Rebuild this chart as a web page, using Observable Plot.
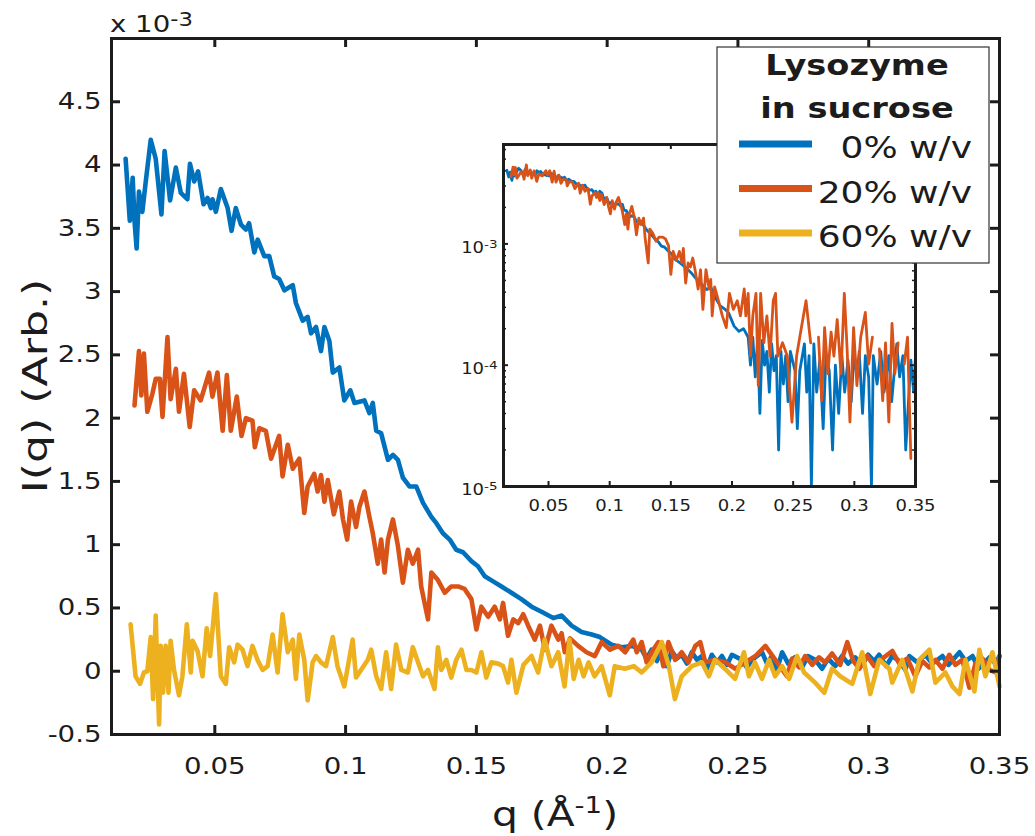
<!DOCTYPE html>
<html>
<head>
<meta charset="utf-8">
<script src="https://cdn.jsdelivr.net/npm/d3@7"></script>
<script src="https://cdn.jsdelivr.net/npm/@observablehq/plot@0.6"></script>
<style>
  html, body { margin: 0; padding: 0; background: #fff; }
  #wrap { position: relative; width: 1035px; height: 836px; overflow: hidden; font-family: "DejaVu Sans", sans-serif; }
  #wrap svg { position: absolute; max-width: none; }
</style>
</head>
<body>
<div id="wrap"></div>
<script>
// ---------------- DATA (I in units of 10^-3, q in 1/Angstrom) ----------------
const blueQ = [0.0159,0.0175,0.0186,0.0193,0.0201,0.0210,0.0223,0.0236,0.0255,0.0274,
  0.0296,0.0308,0.0329,0.0351,0.0370,0.0395,0.0405,0.0421,0.0436,0.0457,
  0.0472,0.0485,0.0491,0.0504,0.0523,0.0549,0.0564,0.0580,0.0600,0.0619,
  0.0631,0.0651,0.0664,0.0689,0.0708,0.0727,0.0746,0.0766,0.0798,0.0810,
  0.0836,0.0855,0.0868,0.0887,0.0906,0.0919,0.0938,0.0951,0.0976,0.0995,
  0.1018,0.1034,0.1072,0.1091,0.1104,0.1117,0.1136,0.1162,0.1181,0.1200,
  0.1219,0.1244,0.1270,0.1296,0.1328,0.1347,0.1372,0.1398,0.1423,0.1449,
  0.1481,0.1506,0.1532,0.1564,0.1596,0.1634,0.1672,0.1711,0.1749,0.1794,
  0.1826,0.1864,0.1902,0.1941,0.1972,0.2017,0.2056,0.2094,0.2132,0.2151,
  0.2170,0.2190,0.2209,0.2228,0.2247,0.2266,0.2285,0.2305,0.2324,0.2343,
  0.2362,0.2381,0.2400,0.2420,0.2439,0.2458,0.2477,0.2515,0.2534,0.2554,
  0.2592,0.2611,0.2630,0.2649,0.2669,0.2692,0.2718,0.2745,0.2768,0.2795,
  0.2822,0.2845,0.2872,0.2898,0.2921,0.2948,0.2975,0.2998,0.3021,0.3040,
  0.3067,0.3090,0.3117,0.3140,0.3155,0.3186,0.3216,0.3243,0.3282,0.3305,
  0.3347,0.3370,0.3397,0.3420,0.3462,0.3485,0.3500];
const blueI = [4.05,3.56,3.90,3.56,3.34,3.79,3.63,3.87,4.20,4.05,
  3.61,4.11,3.72,3.98,3.78,3.73,4.01,3.87,3.95,3.69,
  3.74,3.66,3.73,3.63,3.81,3.66,3.48,3.66,3.53,3.49,
  3.54,3.31,3.41,3.28,3.28,3.12,3.10,3.01,3.05,2.91,
  2.77,2.80,2.67,2.72,2.53,2.72,2.61,2.36,2.40,2.14,
  2.22,2.12,2.14,2.04,2.12,1.90,1.88,1.67,1.71,1.67,
  1.53,1.46,1.46,1.33,1.22,1.17,1.09,1.04,0.96,0.94,
  0.87,0.83,0.75,0.71,0.67,0.62,0.57,0.51,0.47,0.42,
  0.44,0.36,0.31,0.29,0.27,0.21,0.19,0.20,0.17,0.10,
  0.17,0.08,0.16,0.04,0.16,0.10,0.13,0.06,0.15,0.09,
  0.12,0.02,0.13,0.07,0.12,0.05,0.13,0.09,0.03,0.09,
  0.15,0.06,0.12,0.01,0.15,0.06,0.11,0.03,0.12,0.09,
  0.02,0.10,0.04,0.12,0.06,0.11,0.05,0.13,0.08,0.13,
  0.04,0.12,0.08,0.01,0.12,0.07,0.13,0.06,0.12,0.05,
  0.15,0.08,0.12,0.02,0.11,0.06,0.12];

const redQ = [0.0193,0.0210,0.0219,0.0229,0.0242,0.0261,0.0274,0.0290,0.0300,0.0319,
  0.0331,0.0351,0.0363,0.0382,0.0404,0.0421,0.0446,0.0478,0.0491,0.0510,
  0.0530,0.0546,0.0561,0.0584,0.0602,0.0619,0.0644,0.0653,0.0670,0.0695,
  0.0715,0.0746,0.0759,0.0779,0.0798,0.0823,0.0842,0.0855,0.0880,0.0893,
  0.0906,0.0919,0.0932,0.0955,0.0976,0.0990,0.1006,0.1021,0.1040,0.1053,
  0.1072,0.1091,0.1104,0.1123,0.1136,0.1149,0.1162,0.1181,0.1200,0.1219,
  0.1238,0.1257,0.1277,0.1289,0.1315,0.1328,0.1353,0.1379,0.1404,0.1430,
  0.1455,0.1481,0.1500,0.1519,0.1545,0.1570,0.1590,0.1602,0.1621,0.1641,
  0.1660,0.1679,0.1698,0.1723,0.1743,0.1762,0.1787,0.1813,0.1826,0.1838,
  0.1858,0.1889,0.1921,0.1953,0.1979,0.2011,0.2043,0.2069,0.2100,0.2113,
  0.2132,0.2151,0.2170,0.2196,0.2215,0.2234,0.2260,0.2285,0.2311,0.2337,
  0.2356,0.2375,0.2413,0.2452,0.2490,0.2528,0.2567,0.2605,0.2643,0.2688,
  0.2707,0.2734,0.2757,0.2784,0.2810,0.2833,0.2860,0.2891,0.2918,0.2941,
  0.2964,0.2994,0.3021,0.3052,0.3090,0.3117,0.3148,0.3178,0.3205,0.3232,
  0.3255,0.3282,0.3308,0.3331,0.3358,0.3385,0.3408,0.3435,0.3462,0.3485,
  0.3500];
const redI = [2.10,2.53,2.18,2.51,2.05,2.19,2.31,2.31,2.01,2.64,
  2.15,2.39,2.05,2.35,1.93,2.22,2.14,2.36,2.17,2.36,
  1.90,2.34,1.90,2.17,1.86,2.00,1.98,1.77,1.92,1.90,
  1.68,1.86,1.54,1.79,1.60,1.68,1.25,1.46,1.56,1.42,
  1.55,1.34,1.51,1.24,1.42,1.20,1.04,1.34,1.14,1.30,
  1.42,1.22,1.09,0.85,1.04,0.78,1.04,1.20,0.99,0.70,
  0.96,0.85,0.96,0.67,0.41,0.78,0.72,0.62,0.67,0.67,
  0.65,0.57,0.33,0.51,0.43,0.51,0.41,0.54,0.28,0.41,
  0.38,0.45,0.36,0.25,0.36,0.17,0.36,0.25,0.30,0.15,
  0.26,0.20,0.15,0.12,0.23,0.17,0.20,0.15,0.25,0.15,
  0.23,0.07,0.15,0.23,0.04,0.23,0.09,0.15,0.07,0.20,
  0.23,0.07,0.09,0.07,0.02,0.07,0.12,0.20,0.09,-0.04,
  0.10,0.03,0.12,0.05,0.11,0.07,0.14,0.05,0.23,0.08,
  0.02,0.12,0.04,0.10,0.16,0.06,0.10,-0.04,0.08,0.03,
  0.09,0.02,0.13,0.05,0.09,-0.13,0.06,0.10,0.01,-0.01,
  0.12];

const yellowQ = [0.0178,0.0197,0.0214,0.0229,0.0242,0.0255,0.0264,0.0274,0.0280,0.0287,
  0.0293,0.0302,0.0312,0.0323,0.0331,0.0344,0.0363,0.0376,0.0393,0.0408,
  0.0415,0.0434,0.0453,0.0469,0.0482,0.0504,0.0523,0.0542,0.0555,0.0574,
  0.0587,0.0606,0.0625,0.0644,0.0663,0.0683,0.0702,0.0721,0.0740,0.0759,
  0.0779,0.0798,0.0810,0.0823,0.0842,0.0855,0.0874,0.0887,0.0906,0.0925,
  0.0951,0.0969,0.0995,0.1027,0.1040,0.1059,0.1085,0.1098,0.1117,0.1136,
  0.1155,0.1174,0.1193,0.1213,0.1238,0.1257,0.1277,0.1296,0.1315,0.1340,
  0.1353,0.1366,0.1385,0.1404,0.1423,0.1443,0.1462,0.1481,0.1500,0.1519,
  0.1538,0.1557,0.1583,0.1602,0.1621,0.1634,0.1653,0.1680,0.1711,0.1736,
  0.1761,0.1787,0.1813,0.1837,0.1856,0.1872,0.1891,0.1910,0.1929,0.1952,
  0.1979,0.2010,0.2029,0.2067,0.2102,0.2132,0.2170,0.2209,0.2236,0.2259,
  0.2285,0.2324,0.2362,0.2389,0.2412,0.2450,0.2489,0.2523,0.2542,0.2565,
  0.2592,0.2619,0.2642,0.2669,0.2696,0.2726,0.2753,0.2795,0.2830,0.2860,
  0.2891,0.2937,0.2975,0.3006,0.3040,0.3079,0.3090,0.3128,0.3167,0.3193,
  0.3232,0.3255,0.3293,0.3320,0.3347,0.3370,0.3404,0.3423,0.3446,0.3473,
  0.3500];
const yellowI = [0.37,-0.04,-0.10,-0.01,0.00,0.27,-0.22,0.44,0.01,-0.42,
  0.20,-0.17,0.20,-0.17,0.24,0.01,-0.19,-0.04,0.37,-0.01,
  0.24,0.16,-0.04,0.34,0.12,0.61,-0.04,-0.10,0.19,0.07,
  0.21,0.17,0.04,0.20,0.09,0.01,0.04,0.29,-0.01,0.45,
  0.15,0.25,-0.06,0.29,0.09,-0.23,0.07,0.12,0.07,0.04,
  0.27,0.04,-0.12,0.25,-0.05,0.01,0.09,0.17,-0.04,-0.14,
  0.15,-0.14,0.21,0.01,-0.01,0.19,0.07,-0.04,0.01,-0.14,
  0.19,0.01,0.09,-0.05,0.09,0.17,0.01,0.01,-0.01,0.15,
  -0.05,0.07,0.06,0.04,-0.09,0.09,-0.17,0.05,0.12,-0.01,
  0.25,0.04,0.15,-0.12,0.25,-0.06,0.09,-0.04,0.07,-0.04,
  0.04,-0.19,0.04,0.02,0.04,-0.01,0.07,0.23,0.04,-0.22,
  -0.04,0.04,0.07,-0.04,0.09,0.02,-0.06,0.15,-0.04,0.07,
  -0.06,0.09,-0.04,0.04,-0.06,0.12,-0.01,-0.09,-0.17,0.02,
  -0.04,-0.10,0.15,-0.18,0.09,0.02,-0.09,0.09,-0.16,0.09,
  0.17,-0.09,-0.01,-0.12,-0.18,0.09,-0.16,0.17,-0.04,0.15,
  -0.12];

const seriesNames = ["0% w/v", "20% w/v", "60% w/v"];
const legendTitle = ["Lysozyme", "in sucrose"];
const xTicks = [0.05, 0.1, 0.15, 0.2, 0.25, 0.3, 0.35];
const yTicks = [-0.5, 0, 0.5, 1, 1.5, 2, 2.5, 3, 3.5, 4, 4.5];
const insetMajor = [1e-5, 1e-4, 1e-3];
const insetMinor = [2e-5,3e-5,4e-5,5e-5,6e-5,7e-5,8e-5,9e-5,2e-4,3e-4,4e-4,5e-4,6e-4,7e-4,8e-4,9e-4,2e-3,3e-3,4e-3,5e-3,6e-3];
const UNIT = 1e-3;        // main axis multiplier (x 10^-3)
const RED_NORM = 1.7;     // 20% curve normalised onto 0% curve in inset

// ---------------- STYLE ----------------
const C_BLUE = "#0072BD", C_RED = "#D95319", C_YEL = "#EDB120";
const INK = "#1c1c1c";
const FONT = '"DejaVu Sans", sans-serif';
const STRETCH = 1.2;

function rows(qs, vs, k = 1) {
  const out = [];
  const n = Math.min(qs.length, vs.length);
  for (let i = 0; i < n; i++) out.push({q: qs[i], v: vs[i] * k});
  return out;
}

const W = 1035, H = 836, ML = 111, MR = 36, MT = 38, MB = 102;
const iw = W - ML - MR, ih = H - MT - MB;
const TK = 9;

const wrap = document.getElementById("wrap");

// ---------------- MAIN PLOT ----------------
const main = Plot.plot({
  width: W, height: H,
  marginLeft: ML, marginRight: MR, marginTop: MT, marginBottom: MB,
  style: {fontFamily: FONT, fontSize: "23px", color: INK, background: "transparent"},
  x: {domain: [0.0105, 0.35], axis: null},
  y: {domain: [-0.5, 5], axis: null},
  marks: [
    Plot.lineY(rows(blueQ, blueI), {x: "q", y: "v", stroke: C_BLUE, strokeWidth: 4.6, strokeLinejoin: "round"}),
    Plot.lineY(rows(redQ, redI), {x: "q", y: "v", stroke: C_RED, strokeWidth: 4.6, strokeLinejoin: "round"}),
    Plot.lineY(rows(yellowQ, yellowI), {x: "q", y: "v", stroke: C_YEL, strokeWidth: 4.6, strokeLinejoin: "round"}),
    Plot.tickX(xTicks, {x: d => d, insetTop: ih - TK, stroke: INK, strokeWidth: 3}),
    Plot.tickX(xTicks, {x: d => d, insetBottom: ih - TK, stroke: INK, strokeWidth: 3}),
    Plot.tickY(yTicks, {y: d => d, insetRight: iw - TK, stroke: INK, strokeWidth: 3}),
    Plot.tickY(yTicks, {y: d => d, insetLeft: iw - TK, stroke: INK, strokeWidth: 3}),
    Plot.frame({stroke: INK, strokeWidth: 3}),
    Plot.axisX(xTicks, {tickSize: 0, tickPadding: 23, tickFormat: d => String(d), label: null}),
    Plot.axisY(yTicks, {tickSize: 0, tickPadding: 10, tickFormat: d => String(d), label: null})
  ]
});
main.style.left = "0px"; main.style.top = "0px";
wrap.appendChild(main);

// ---------------- INSET (log scale) ----------------
const IL = 503, IT = 144, IW = 412, IH = 342;
const iML = 52, iMR = 30, iMT = 6, iMB = 40;
const ITK = 5, ITKm = 3;
const inset = Plot.plot({
  width: IW + iML + iMR, height: IH + iMT + iMB,
  marginLeft: iML, marginRight: iMR, marginTop: iMT, marginBottom: iMB,
  style: {fontFamily: FONT, fontSize: "15px", color: INK, background: "transparent"},
  x: {domain: [0.0132, 0.35], axis: null},
  y: {type: "log", domain: [1e-5, 6.6e-3], axis: null},
  marks: [
    Plot.frame({fill: "white"}),
    Plot.lineY(rows(blueQ, blueI, UNIT), {x: "q", y: "v", stroke: C_BLUE, strokeWidth: 2.8, clip: true}),
    Plot.lineY(rows(redQ, redI, UNIT * RED_NORM), {x: "q", y: "v", stroke: C_RED, strokeWidth: 2.8, clip: true}),
    Plot.tickX(xTicks, {x: d => d, insetTop: IH - ITK, stroke: INK, strokeWidth: 2}),
    Plot.tickX(xTicks, {x: d => d, insetBottom: IH - ITK, stroke: INK, strokeWidth: 2}),
    Plot.tickY(insetMajor, {y: d => d, insetRight: IW - ITK, stroke: INK, strokeWidth: 2}),
    Plot.tickY(insetMajor, {y: d => d, insetLeft: IW - ITK, stroke: INK, strokeWidth: 2}),
    Plot.tickY(insetMinor, {y: d => d, insetRight: IW - ITKm, stroke: INK, strokeWidth: 1.5}),
    Plot.tickY(insetMinor, {y: d => d, insetLeft: IW - ITKm, stroke: INK, strokeWidth: 1.5}),
    Plot.frame({stroke: INK, strokeWidth: 3}),
    Plot.axisX(xTicks, {tickSize: 0, tickPadding: 14, tickFormat: d => String(d), label: null}),
    Plot.axisY(insetMajor, {tickSize: 0, tickPadding: 6, dy: 4, tickFormat: d => String(Math.round(Math.log10(d))), label: null})
  ]
});
inset.style.left = (IL - iML) + "px"; inset.style.top = (IT - iMT) + "px";
wrap.appendChild(inset);

// superscript exponents for the inset y labels: 10^e
d3.select(inset).selectAll('g[aria-label="y-axis tick label"] text').each(function () {
  const e = this.textContent;
  const t = d3.select(this);
  t.text(null);
  t.append("tspan").text("10");
  t.append("tspan").attr("dy", "-0.45em").attr("font-size", "0.75em").text(e);
});

// ---------------- OVERLAY: legend, multiplier, axis titles ----------------
const ov = d3.create("svg")
  .attr("width", W).attr("height", H)
  .style("left", "0px").style("top", "0px")
  .attr("font-family", FONT).attr("fill", INK);

// multiplier  x 10^-3
const mult = ov.append("text").attr("x", 110).attr("y", 32).attr("font-size", 23);
mult.append("tspan").text("x 10");
mult.append("tspan").attr("dy", -6).attr("font-size", 19).text("-3");

// x axis title  q (Å^-1)
const xl = ov.append("text").attr("x", ML + iw / 2).attr("y", 826).attr("text-anchor", "middle").attr("font-size", 34);
xl.append("tspan").text("q (Å");
xl.append("tspan").attr("dy", -13).attr("font-size", 23).text("-1");
xl.append("tspan").attr("dy", 13).text(")");

// y axis title (rotated)
ov.append("text")
  .attr("data-k", "1.3")
  .attr("transform", `translate(47,${MT + ih / 2}) rotate(-90)`)
  .attr("text-anchor", "middle").attr("font-size", 34)
  .text("I(q) (Arb.)");

// legend
const LX = 717, LY = 47, LW = 272, LH = 216;
const lg = ov.append("g");
lg.append("rect").attr("x", LX).attr("y", LY).attr("width", LW).attr("height", LH)
  .attr("fill", "white").attr("stroke", "#333").attr("stroke-width", 1.2);
legendTitle.forEach((s, i) => {
  lg.append("text").attr("x", LX + LW / 2 + 4).attr("y", 75 + i * 43)
    .attr("text-anchor", "middle").attr("font-weight", "bold").attr("font-size", 28).text(s);
});
const colors = [C_BLUE, C_RED, C_YEL];
seriesNames.forEach((s, i) => {
  const cy = 144 + i * 44.5;
  lg.append("line").attr("x1", 739).attr("x2", 812).attr("y1", cy).attr("y2", cy)
    .attr("stroke", colors[i]).attr("stroke-width", 7);
  lg.append("text").attr("x", 972).attr("y", cy + 14).attr("text-anchor", "end")
    .attr("font-size", 30).text(s);
});
wrap.appendChild(ov.node());

// ---------------- wide-set lettering, as in the reference ----------------
function stretchText(svg) {
  svg.querySelectorAll("text").forEach(t => {
    const k = t.hasAttribute("data-k") ? +t.getAttribute("data-k") : STRETCH;
    const L = t.getComputedTextLength();
    if (L > 0) {
      t.setAttribute("textLength", (L * k).toFixed(2));
      t.setAttribute("lengthAdjust", "spacingAndGlyphs");
    }
  });
}
[main, inset, ov.node()].forEach(stretchText);
</script>
</body>
</html>
